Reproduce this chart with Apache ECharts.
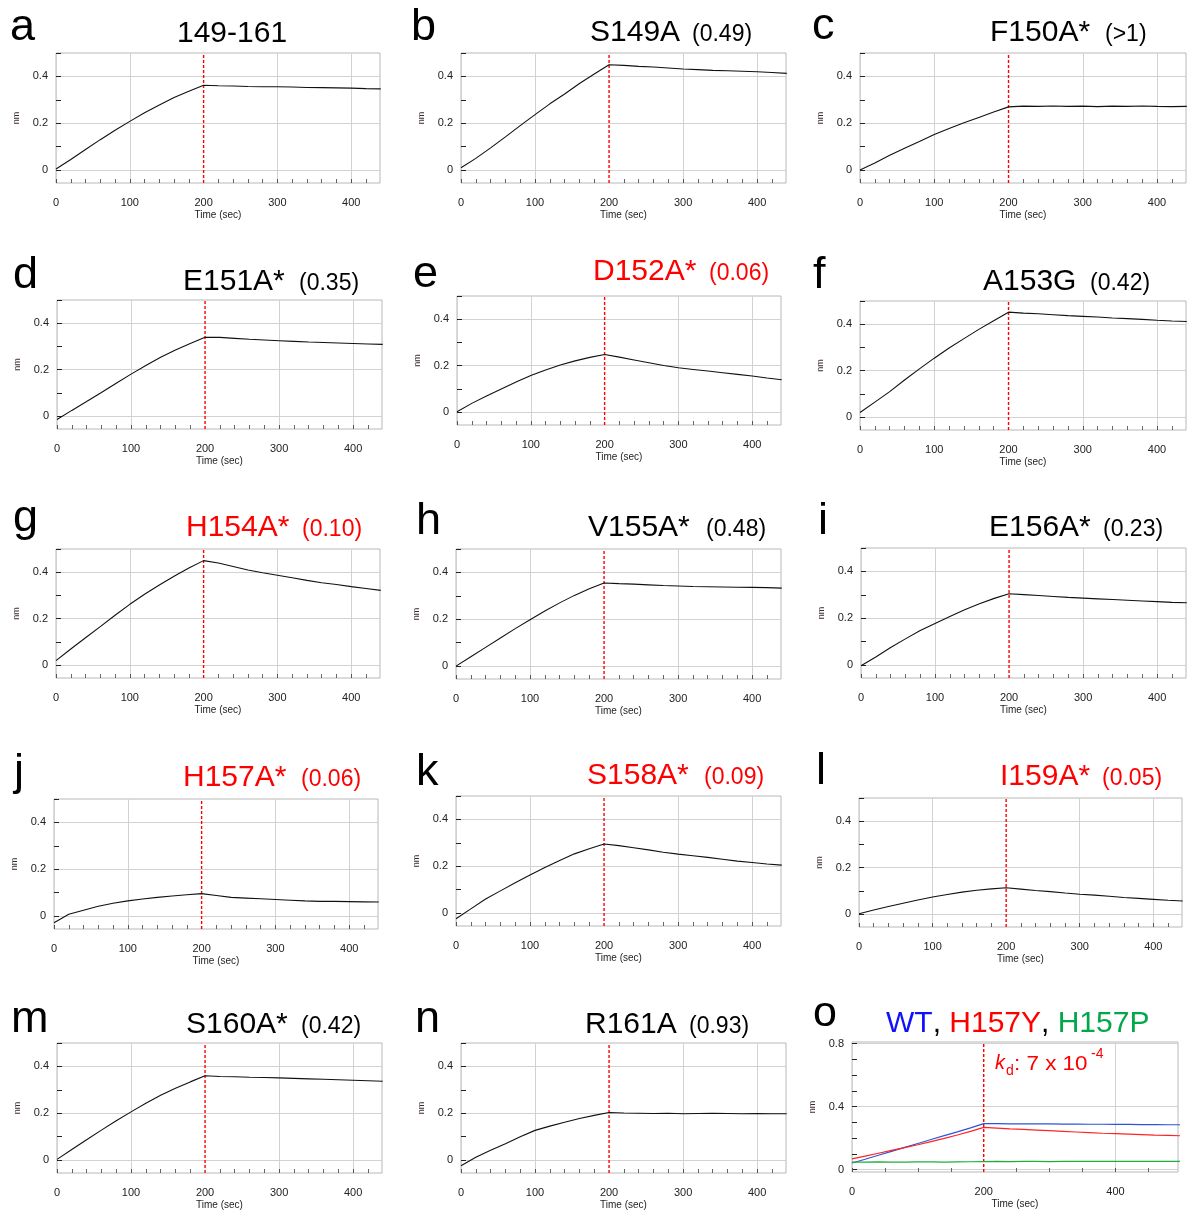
<!DOCTYPE html>
<html>
<head>
<meta charset="utf-8">
<script src="https://cdn.jsdelivr.net/npm/echarts@6/dist/echarts.min.js"></script>
<style>
html,body{margin:0;padding:0;background:#fff;}
#chart{width:1187px;height:1211px;}
</style>
</head>
<body>
<div id="chart"></div>
<script>
// ---------- DATA ----------
const panelLetters = ['a','b','c','d','e','f','g','h','i','j','k','l','m','n','o'];
const panelTitles  = ['149-161','S149A','F150A*','E151A*','D152A*','A153G','H154A*','V155A*','E156A*','H157A*','S158A*','I159A*','S160A*','R161A'];
const panelKd      = ['','(0.49)','(>1)','(0.35)','(0.06)','(0.42)','(0.10)','(0.48)','(0.23)','(0.06)','(0.09)','(0.05)','(0.42)','(0.93)'];
const panelRed     = [false,false,false,false,true,false,true,false,false,true,true,true,false,false];

const time = [0,20,40,60,80,100,120,140,160,180,200,220,240,260,280,300,320,340,360,380,400,420,440];
const curveA = [0.005,0.045,0.088,0.130,0.170,0.208,0.245,0.278,0.310,0.337,0.362,0.360,0.359,0.357,0.356,0.356,0.355,0.353,0.352,0.351,0.350,0.348,0.347];
const curveB = [0.010,0.050,0.095,0.142,0.190,0.237,0.283,0.325,0.370,0.410,0.450,0.447,0.443,0.440,0.436,0.432,0.429,0.426,0.424,0.422,0.420,0.417,0.413];
const curveC = [0.000,0.030,0.063,0.093,0.122,0.152,0.178,0.202,0.225,0.248,0.270,0.273,0.272,0.274,0.272,0.273,0.271,0.273,0.272,0.274,0.272,0.271,0.272];
const curveD = [-0.014,0.025,0.063,0.102,0.142,0.181,0.218,0.254,0.285,0.313,0.340,0.339,0.335,0.331,0.328,0.325,0.322,0.319,0.317,0.315,0.313,0.311,0.309];
const curveE = [0.002,0.038,0.070,0.100,0.130,0.158,0.182,0.203,0.221,0.236,0.248,0.237,0.225,0.213,0.201,0.191,0.184,0.177,0.170,0.163,0.156,0.147,0.140];
const curveF = [0.020,0.065,0.110,0.160,0.208,0.254,0.298,0.338,0.378,0.415,0.452,0.448,0.445,0.441,0.437,0.434,0.431,0.427,0.424,0.421,0.417,0.414,0.412];
const curveG = [0.020,0.070,0.118,0.166,0.215,0.262,0.305,0.345,0.383,0.418,0.450,0.440,0.425,0.410,0.398,0.387,0.376,0.365,0.355,0.347,0.338,0.330,0.322];
const curveH = [0.000,0.040,0.080,0.120,0.160,0.198,0.235,0.270,0.302,0.330,0.355,0.352,0.350,0.347,0.344,0.342,0.340,0.339,0.338,0.337,0.336,0.335,0.333];
const curveI = [-0.003,0.035,0.075,0.112,0.148,0.178,0.208,0.236,0.262,0.285,0.305,0.301,0.297,0.293,0.289,0.286,0.283,0.280,0.277,0.274,0.271,0.268,0.266];
const curveJ = [-0.028,0.008,0.025,0.042,0.055,0.065,0.073,0.080,0.086,0.091,0.096,0.088,0.080,0.077,0.074,0.071,0.068,0.065,0.063,0.063,0.062,0.061,0.060];
const curveK = [-0.024,0.018,0.060,0.095,0.130,0.163,0.195,0.225,0.253,0.275,0.295,0.288,0.279,0.270,0.260,0.252,0.245,0.238,0.230,0.222,0.216,0.210,0.205];
const curveL = [0.002,0.018,0.033,0.047,0.061,0.074,0.085,0.095,0.103,0.109,0.114,0.108,0.102,0.097,0.091,0.086,0.082,0.077,0.072,0.068,0.064,0.060,0.057];
const curveM = [0.003,0.045,0.087,0.128,0.168,0.206,0.243,0.277,0.307,0.334,0.360,0.357,0.356,0.354,0.353,0.351,0.349,0.347,0.345,0.343,0.341,0.339,0.337];
const curveN = [-0.024,0.012,0.042,0.070,0.100,0.127,0.145,0.162,0.178,0.191,0.203,0.201,0.200,0.199,0.200,0.198,0.199,0.200,0.199,0.198,0.199,0.198,0.198];
const curves = [curveA,curveB,curveC,curveD,curveE,curveF,curveG,curveH,curveI,curveJ,curveK,curveL,curveM,curveN];

// panel o
const timeO   = [0,20,40,60,80,100,120,140,160,180,200,220,240,260,280,300,320,340,360,380,400,420,440,460,480,500];
const oWT     = [0.042,0.066,0.091,0.116,0.141,0.166,0.191,0.216,0.240,0.265,0.292,0.292,0.291,0.291,0.290,0.290,0.289,0.289,0.288,0.288,0.287,0.287,0.286,0.286,0.285,0.285];
const oH157Y  = [0.068,0.086,0.104,0.122,0.140,0.158,0.178,0.198,0.220,0.243,0.268,0.264,0.259,0.255,0.251,0.247,0.243,0.239,0.235,0.231,0.228,0.225,0.222,0.219,0.217,0.215];
const oH157P  = [0.048,0.048,0.049,0.048,0.048,0.049,0.049,0.048,0.049,0.050,0.051,0.052,0.051,0.052,0.052,0.051,0.052,0.053,0.052,0.052,0.053,0.052,0.053,0.053,0.052,0.053];
const oNames  = ['WT','H157Y','H157P'];

// tick values
const xLabels = [0,100,200,300,400];
const xGrid   = [0,100,300,400];
const xMinor  = [20,40,60,80,120,140,160,180,220,240,260,280,320,340,360,380,420];
const yMajor  = [0,0.2,0.4];
const yMinor  = [0.1,0.3,0.5];
const oxLabels = [0,200,400];
const oxGrid   = [0,400];
const oxMinor  = [50,100,150,250,300,350,450];
const oyMajor  = [0,0.4,0.8];
const oyMinor  = [0.1,0.2,0.3,0.5,0.6,0.7];
const injectionEnd = 200;

// ---------- LAYOUT ----------
const boxes = [
  [56,53,324,130],[461,53,325,130],[860,53,326,130],
  [57,300,325,129],[457,296,324,129],[860,301,326,129],
  [56,549,324,129],[456,549,325,130],[861,548,325,130],
  [54,799,324,130],[456,796,325,130],[859,798,323,129],
  [57,1043,325,130],[461,1043,325,130],[852,1042,326,130]
];
// [letterX, letterBaseline, titleX, kdX, titleBaseline]
const tpos = [
  [10,43,177,0,44],[411,43,590,692,43],[812,42,990,1105,43],
  [13,291,183,299,292],[413,290,593,709,282],[813,291,983,1090,292],
  [13,534,186,302,538],[416,537,588,706,538],[818,537,989,1103,538],
  [14,788,183,301,788],[416,788,587,704,786],[816,787,1000,1102,787],
  [11,1035,186,301,1035],[415,1035,585,689,1035],[813,1029,886,0,1034]
];

const FONT = 'Liberation Sans, Arial, sans-serif';
const RED = '#ff0000';
const labelStyle = {fontFamily: FONT, fontSize: 11, color: '#222'};

const option = {
  animation: false,
  backgroundColor: '#fff',
  grid: [], xAxis: [], yAxis: [], series: [],
  graphic: {elements: []}
};

function txt(x, base, text, size, color, extra) {
  return Object.assign({
    type: 'text', x: x, y: base - 0.35 * size, silent: true,
    style: {text: text, fontSize: size, fontFamily: FONT, fill: color,
            align: 'left', verticalAlign: 'middle', textAlign: 'left', textVerticalAlign: 'middle'}
  }, extra || {});
}

function addAxes(i, xmax, ymin, ymax, xLab, xGr, xMin, yMaj, yMin) {
  const b = boxes[i];
  option.grid.push({left: b[0], top: b[1], width: b[2], height: b[3], show: true,
    borderColor: '#b8b8b8', borderWidth: 1, backgroundColor: '#fff', containLabel: false, outerBoundsMode: 'none'});
  option.xAxis.push({
    gridIndex: i, type: 'value', min: 0, max: xmax, position: 'bottom',
    axisLine: {show: false, onZero: false},
    axisTick: {show: true, inside: true, length: 4, customValues: xGr, lineStyle: {color: '#555'}},
    axisLabel: Object.assign({customValues: xLab, margin: 14}, labelStyle),
    splitLine: {show: true, lineStyle: {color: '#d2d2d2', width: 1}},
    name: 'Time (sec)', nameLocation: 'middle', nameGap: 27,
    nameTextStyle: {fontFamily: FONT, fontSize: 10, color: '#222'}
  });
  option.xAxis.push({
    gridIndex: i, type: 'value', min: 0, max: xmax, position: 'bottom',
    axisLine: {show: false, onZero: false},
    axisTick: {show: true, inside: true, length: 4, customValues: xMin, lineStyle: {color: '#666'}},
    axisLabel: {show: false}, splitLine: {show: false}
  });
  option.yAxis.push({
    gridIndex: i, type: 'value', min: ymin, max: ymax, position: 'left',
    axisLine: {show: false, onZero: false},
    axisTick: {show: true, inside: true, length: 5, customValues: yMaj, lineStyle: {color: '#222'}},
    axisLabel: Object.assign({customValues: yMaj, margin: 8}, labelStyle),
    splitLine: {show: true, lineStyle: {color: '#d2d2d2', width: 1}},
    name: 'nm', nameLocation: 'middle', nameRotate: 90, nameGap: 35,
    nameTextStyle: {fontFamily: FONT, fontSize: 9, color: '#3a2a2a'}
  });
  option.yAxis.push({
    gridIndex: i, type: 'value', min: ymin, max: ymax, position: 'left',
    axisLine: {show: false, onZero: false},
    axisTick: {show: true, inside: true, length: 5, customValues: yMin, lineStyle: {color: '#222'}},
    axisLabel: {show: false}, splitLine: {show: false}
  });
  // red dashed line at end of association phase
  option.series.push({
    type: 'line', xAxisIndex: 2*i, yAxisIndex: 2*i,
    data: [[injectionEnd, ymin], [injectionEnd, ymax]],
    showSymbol: false, symbol: 'none', silent: true, clip: true, z: 3,
    lineStyle: {color: '#ff0000', width: 1.4, type: [3, 2]}
  });
}

for (let i = 0; i < 14; i++) {
  addAxes(i, 439, -0.055, 0.5, xLabels, xGrid, xMinor, yMajor, yMinor);
  option.series.push({
    type: 'line', xAxisIndex: 2*i, yAxisIndex: 2*i,
    data: time.map((t, k) => [t, curves[i][k]]),
    showSymbol: false, symbol: 'none', silent: true, clip: true, z: 4,
    lineStyle: {color: '#111', width: 1.1}
  });
  const p = tpos[i];
  const col = panelRed[i] ? RED : '#000';
  option.graphic.elements.push(txt(p[0], p[1], panelLetters[i], 45, '#000'));
  option.graphic.elements.push(txt(p[2], p[4], panelTitles[i], 30, col));
  if (panelKd[i]) option.graphic.elements.push(txt(p[3], p[4], panelKd[i], 23, col));
}

// panel o
addAxes(14, 495, -0.015, 0.81, oxLabels, oxGrid, oxMinor, oyMajor, oyMinor);
const oColors = ['#2a55d6', '#ff2424', '#1fae3a'];
[oWT, oH157Y, oH157P].forEach((arr, s) => {
  option.series.push({
    type: 'line', name: oNames[s], xAxisIndex: 28, yAxisIndex: 28,
    data: timeO.map((t, k) => [t, arr[k]]),
    showSymbol: false, symbol: 'none', silent: true, clip: true, z: 4,
    lineStyle: {color: oColors[s], width: 1.2}
  });
});
const po = tpos[14];
option.graphic.elements.push(txt(po[0], po[1], 'o', 43, '#000'));
option.graphic.elements.push({
  type: 'text', x: po[2], y: po[4] - 0.35 * 30, silent: true,
  style: {
    text: '{b|' + oNames[0] + '}{k|, }{r|' + oNames[1] + '}{k|, }{g|' + oNames[2] + '}',
    fontSize: 30, fontFamily: FONT, align: 'left', verticalAlign: 'middle', textAlign: 'left', textVerticalAlign: 'middle',
    rich: {
      b: {fill: '#1010ff', color: '#1010ff', fontSize: 30, fontFamily: FONT},
      k: {fill: '#000', color: '#000', fontSize: 30, fontFamily: FONT},
      r: {fill: RED, color: RED, fontSize: 30, fontFamily: FONT},
      g: {fill: '#00a84a', color: '#00a84a', fontSize: 30, fontFamily: FONT}
    }
  }
});
// k_d annotation
option.graphic.elements.push(txt(995, 1070, 'k', 20, RED, {style: {text: 'k', fontSize: 20, fontFamily: FONT, fontStyle: 'italic', fill: RED, align: 'left', verticalAlign: 'middle', textAlign: 'left', textVerticalAlign: 'middle'}}));
option.graphic.elements.push(txt(1006, 1076, 'd', 14, RED));
option.graphic.elements.push(txt(1014, 1071, ': 7 x 10', 20, RED, {scaleX: 1.12}));
option.graphic.elements.push(txt(1091, 1059, '-4', 14, RED));

const chart = echarts.init(document.getElementById('chart'), null, {renderer: 'canvas'});
chart.setOption(option);
</script>
</body>
</html>
